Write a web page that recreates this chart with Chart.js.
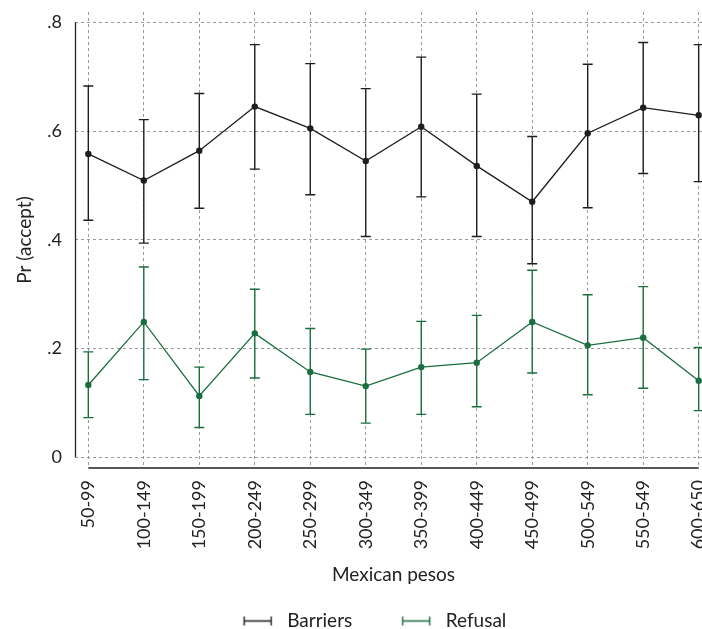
<!DOCTYPE html>
<html>
<head>
<meta charset="utf-8">
<script src="https://cdn.jsdelivr.net/npm/chart.js@4/dist/chart.umd.min.js"></script>
<style>
  html, body { margin: 0; padding: 0; background: #fff; }
  #wrap { width: 702px; height: 629px; overflow: hidden; position: relative; }
  #chart { display: block; }
</style>
</head>
<body>
<div id="wrap"><canvas id="chart" width="720" height="640"></canvas></div>
<script>
const categories = ["50-99", "100-149", "150-199", "200-249", "250-299", "300-349",
  "350-399", "400-449", "450-499", "500-549", "550-549", "600-650"];

const barriers     = [0.558, 0.509, 0.564, 0.645, 0.605, 0.545, 0.608, 0.536, 0.470, 0.596, 0.643, 0.629];
const barriersLow  = [0.436, 0.394, 0.458, 0.530, 0.483, 0.406, 0.479, 0.406, 0.356, 0.459, 0.522, 0.507];
const barriersHigh = [0.683, 0.621, 0.669, 0.759, 0.724, 0.678, 0.736, 0.668, 0.590, 0.723, 0.763, 0.759];

const refusal     = [0.133, 0.249, 0.113, 0.228, 0.157, 0.131, 0.166, 0.174, 0.249, 0.206, 0.220, 0.141];
const refusalLow  = [0.073, 0.143, 0.055, 0.146, 0.079, 0.063, 0.079, 0.093, 0.155, 0.115, 0.127, 0.086];
const refusalHigh = [0.194, 0.350, 0.166, 0.309, 0.237, 0.199, 0.250, 0.261, 0.344, 0.299, 0.314, 0.202];

const yTicks = [0, 0.2, 0.4, 0.6, 0.8];
const yTickLabels = ["0", ".2", ".4", ".6", ".8"];

const black = "#1e1e1e";
const green = "#1a6e3e";
const textColor = "#222";
const font = "Lato, 'Open Sans', sans-serif";

// legend symbol: a horizontal error bar, blank space on the left works as item spacing
function legendSymbol(color) {
  const c = document.createElement("canvas");
  c.width = 72; c.height = 12;
  const g = c.getContext("2d");
  g.strokeStyle = color;
  g.lineWidth = 1.4;
  g.beginPath();
  g.moveTo(38, 6.5); g.lineTo(66, 6.5);
  g.moveTo(38.5, 2); g.lineTo(38.5, 11);
  g.moveTo(65.5, 2); g.lineTo(65.5, 11);
  g.stroke();
  return c;
}

const errorBars = {
  id: "errorBars",
  beforeDatasetsDraw(chart) {
    const { ctx, scales: { x, y } } = chart;
    const sets = [[barriersLow, barriersHigh, black], [refusalLow, refusalHigh, green]];
    ctx.save();
    ctx.lineWidth = 1.4;
    sets.forEach(([lo, hi, color]) => {
      ctx.strokeStyle = color;
      ctx.beginPath();
      lo.forEach((v, i) => {
        const px = x.getPixelForValue(i);
        const y1 = y.getPixelForValue(v);
        const y2 = y.getPixelForValue(hi[i]);
        ctx.moveTo(px, y1); ctx.lineTo(px, y2);
        ctx.moveTo(px - 5, y1); ctx.lineTo(px + 5, y1);
        ctx.moveTo(px - 5, y2); ctx.lineTo(px + 5, y2);
      });
      ctx.stroke();
    });
    ctx.restore();
  },
  afterDraw(chart) {
    // Stata-like axis lines spanning only the data range
    const { ctx, scales: { x, y } } = chart;
    ctx.save();
    ctx.strokeStyle = "#222";
    ctx.lineWidth = 1.3;
    ctx.beginPath();
    const ax = chart.chartArea.left + 0.5;
    ctx.moveTo(ax, y.getPixelForValue(yTicks[yTicks.length - 1]));
    ctx.lineTo(ax, y.getPixelForValue(yTicks[0]));
    const ay = chart.chartArea.bottom;
    ctx.moveTo(x.getPixelForValue(0), ay);
    ctx.lineTo(x.getPixelForValue(categories.length - 1), ay);
    ctx.stroke();
    ctx.restore();
  }
};

new Chart(document.getElementById("chart"), {
  type: "line",
  data: {
    datasets: [
      {
        label: "Barriers",
        data: barriers.map((v, i) => ({ x: i, y: v })),
        borderColor: black,
        backgroundColor: black,
        borderWidth: 1.3,
        pointRadius: 3.2,
        pointBorderWidth: 0,
        pointBackgroundColor: black,
        tension: 0
      },
      {
        label: "Refusal",
        data: refusal.map((v, i) => ({ x: i, y: v })),
        borderColor: green,
        backgroundColor: green,
        borderWidth: 1.3,
        pointRadius: 3.2,
        pointBorderWidth: 0,
        pointBackgroundColor: green,
        tension: 0
      }
    ]
  },
  options: {
    responsive: false,
    animation: false,
    layout: { padding: { top: 12, right: 8, left: 0, bottom: 0 } },
    scales: {
      x: {
        type: "linear",
        min: -0.24,
        max: 11.24,
        afterBuildTicks: (scale) => { scale.ticks = categories.map((c, i) => ({ value: i })); },
        afterFit: (scale) => {
          scale.height = 131;
          scale.paddingLeft = 0;
          scale.paddingRight = 0;
        },
        grid: { color: "#9a9a9a", lineWidth: 1, drawTicks: false },
        border: { display: false, dash: [3, 3] },
        ticks: {
          autoSkip: false,
          minRotation: 90,
          maxRotation: 90,
          padding: 12,
          color: textColor,
          font: { family: font, size: 18 },
          callback: (v) => categories[v]
        },
        title: {
          display: true,
          text: "Mexican pesos",
          color: textColor,
          font: { family: font, size: 19 },
          padding: { top: 0, bottom: 13 }
        }
      },
      y: {
        type: "linear",
        min: -0.0196,
        max: 0.819,
        afterBuildTicks: (scale) => { scale.ticks = yTicks.map((v) => ({ value: v })); },
        afterFit: (scale) => {
          scale.width = 75;
          scale.paddingTop = 0;
          scale.paddingBottom = 0;
        },
        grid: { color: "#9a9a9a", lineWidth: 1, drawTicks: false },
        border: { display: false, dash: [3, 3] },
        ticks: {
          padding: 13,
          color: textColor,
          font: { family: font, size: 18 },
          callback: (v, i) => yTickLabels[i]
        },
        title: {
          display: true,
          text: "Pr (accept)",
          color: textColor,
          font: { family: font, size: 19 },
          padding: { top: 13, bottom: 0 }
        }
      }
    },
    plugins: {
      tooltip: { enabled: false },
      legend: {
        position: "bottom",
        labels: {
          usePointStyle: true,
          pointStyleWidth: 72,
          padding: 12,
          color: textColor,
          font: { family: font, size: 19 },
          generateLabels: (chart) => {
            const items = Chart.defaults.plugins.legend.labels.generateLabels(chart);
            items.forEach((it) => {
              it.pointStyle = legendSymbol(it.datasetIndex === 0 ? black : green);
            });
            return items;
          }
        }
      }
    }
  },
  plugins: [errorBars]
});
</script>
</body>
</html>
